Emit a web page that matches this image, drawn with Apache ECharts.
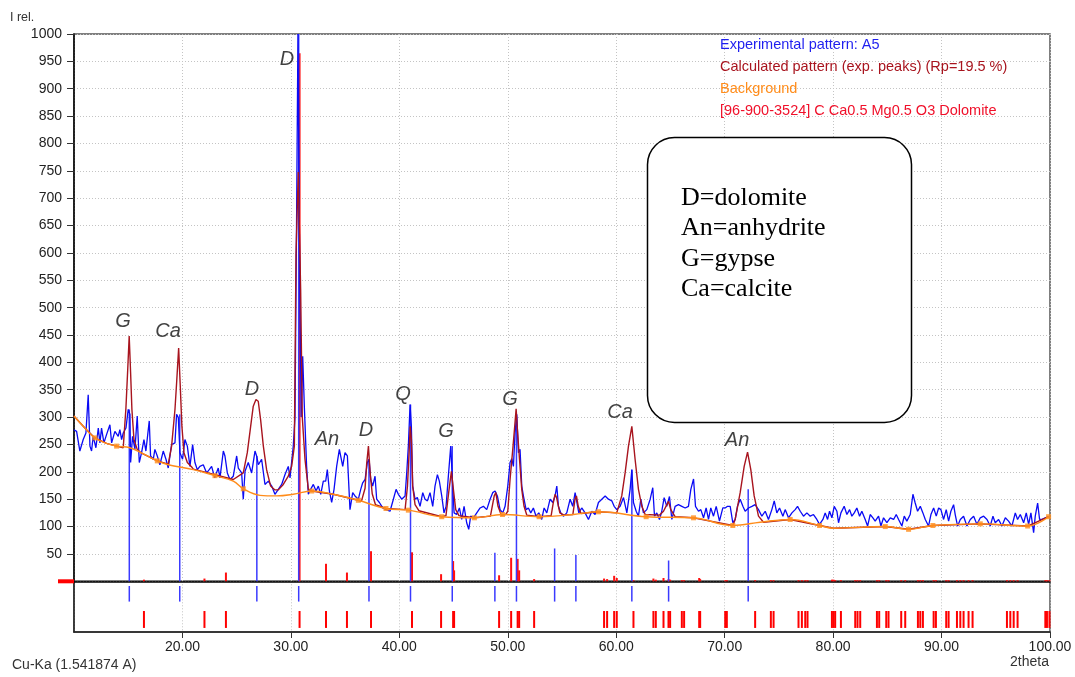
<!DOCTYPE html>
<html><head><meta charset="utf-8">
<script src="https://cdn.jsdelivr.net/npm/echarts@6/dist/echarts.min.js"></script>
<style>html,body{margin:0;padding:0;background:#fff}#c{width:1075px;height:677px}</style>
</head><body><div id="c"></div>
<script>
// ---- data (2theta, relative intensity) ----
const experimental = [[9.99,277],[10.24,274],[10.54,238],[10.85,259],[11.10,271],[11.31,341],[11.47,247],[11.62,238],[11.77,265],[12.02,244],[12.24,280],[12.39,253],[12.54,280],[12.76,253],[13.00,268],[13.31,286],[13.47,253],[13.77,274],[14.08,265],[14.23,277],[14.39,259],[14.54,271],[14.79,280],[15.00,314],[15.16,305],[15.22,217],[15.40,265],[15.62,241],[15.83,302],[16.02,217],[16.23,235],[16.45,259],[16.63,238],[16.94,293],[17.06,229],[17.31,223],[17.46,241],[17.68,229],[17.92,213],[18.23,238],[18.48,223],[18.69,207],[19.00,250],[19.31,253],[19.46,305],[19.62,299],[19.77,235],[20.01,223],[20.23,259],[20.45,247],[20.69,210],[20.94,250],[21.15,217],[21.37,204],[21.61,210],[21.92,213],[22.23,198],[22.47,204],[22.69,210],[22.98,189],[23.30,207],[23.46,189],[23.77,238],[23.92,229],[24.14,198],[24.38,186],[24.69,192],[25.00,229],[25.15,207],[25.46,198],[25.61,150],[25.77,201],[26.07,217],[26.38,198],[26.69,238],[26.84,229],[27.00,213],[27.30,223],[27.61,177],[27.92,183],[28.23,174],[28.53,159],[28.84,168],[29.15,177],[29.46,195],[29.76,210],[29.92,189],[30.22,247],[30.38,300],[30.50,597],[30.65,1000],[30.80,590],[30.95,300],[31.09,411],[31.24,320],[31.45,210],[31.61,159],[31.82,168],[32.07,177],[32.32,165],[32.53,174],[32.75,159],[32.99,183],[33.21,183],[33.36,204],[33.55,165],[33.76,144],[33.98,168],[34.22,210],[34.47,241],[34.78,210],[34.99,235],[35.21,229],[35.45,131],[35.70,162],[35.91,156],[36.22,150],[36.44,168],[36.62,180],[36.84,186],[37.05,217],[37.21,223],[37.36,186],[37.54,174],[37.76,192],[37.91,150],[38.16,144],[38.47,134],[38.77,131],[39.14,128],[39.45,150],[39.70,168],[39.91,159],[40.22,150],[40.53,156],[40.68,198],[40.83,247],[40.99,323],[41.11,283],[41.23,174],[41.45,150],[41.66,153],[41.91,137],[42.16,162],[42.37,150],[42.59,147],[42.83,162],[43.08,137],[43.29,174],[43.51,195],[43.69,183],[43.91,156],[44.12,125],[44.31,137],[44.52,192],[44.74,247],[44.89,186],[45.05,125],[45.29,122],[45.54,134],[45.75,113],[45.97,137],[46.21,107],[46.40,95],[46.58,119],[46.83,116],[47.14,125],[47.45,134],[47.75,137],[48.06,131],[48.37,150],[48.61,162],[48.83,165],[49.04,156],[49.29,131],[49.54,125],[49.75,137],[50.00,174],[50.21,217],[50.37,224],[50.52,210],[50.67,271],[50.83,305],[50.98,235],[51.13,241],[51.29,174],[51.44,156],[51.69,131],[51.90,134],[52.12,125],[52.36,134],[52.61,119],[52.86,125],[53.13,113],[53.35,134],[53.60,125],[53.90,150],[54.15,144],[54.36,156],[54.52,174],[54.67,137],[54.89,125],[55.13,119],[55.44,125],[55.75,150],[55.99,137],[56.21,162],[56.36,165],[56.55,125],[56.82,134],[57.13,125],[57.44,113],[57.75,128],[58.05,122],[58.36,144],[58.67,150],[58.98,156],[59.28,150],[59.59,147],[59.81,137],[60.05,131],[60.36,137],[60.67,153],[60.98,125],[61.28,168],[61.44,204],[61.59,144],[61.84,128],[62.05,119],[62.27,150],[62.51,125],[62.82,131],[63.13,150],[63.37,171],[63.53,119],[63.74,125],[63.99,113],[64.20,128],[64.42,153],[64.66,137],[64.91,155],[65.13,113],[65.43,137],[65.74,140],[66.05,137],[66.36,134],[66.66,137],[66.88,168],[67.13,187],[67.31,137],[67.59,128],[67.80,131],[68.05,116],[68.29,134],[68.51,113],[68.72,134],[68.97,119],[69.22,137],[69.52,110],[69.83,134],[70.05,134],[70.26,137],[70.51,137],[70.75,107],[70.97,113],[71.18,137],[71.43,150],[71.68,137],[71.89,128],[72.20,134],[72.51,137],[72.81,140],[73.12,131],[73.43,119],[73.74,128],[74.04,113],[74.35,131],[74.57,147],[74.81,125],[75.06,134],[75.37,119],[75.58,131],[75.89,116],[76.20,125],[76.50,131],[76.72,137],[76.97,128],[77.27,119],[77.58,125],[77.89,119],[78.19,122],[78.50,113],[78.75,104],[79.06,113],[79.27,125],[79.49,113],[79.67,128],[79.89,116],[80.10,137],[80.35,128],[80.50,107],[80.72,125],[81.02,137],[81.27,122],[81.52,131],[81.73,119],[81.95,125],[82.19,134],[82.44,119],[82.65,128],[82.96,113],[83.18,101],[83.42,122],[83.67,116],[83.88,110],[84.19,119],[84.41,101],[84.65,116],[84.96,107],[85.27,116],[85.58,113],[85.82,122],[86.04,113],[86.34,101],[86.56,119],[86.80,110],[87.11,122],[87.36,159],[87.57,143],[87.79,128],[88.04,137],[88.28,125],[88.50,113],[88.80,101],[89.02,122],[89.27,134],[89.51,119],[89.73,134],[89.94,131],[90.19,113],[90.43,131],[90.65,110],[90.86,128],[91.11,140],[91.26,122],[91.48,101],[91.73,113],[92.03,119],[92.34,101],[92.65,113],[92.96,119],[93.26,104],[93.57,116],[93.88,119],[94.19,113],[94.49,101],[94.74,119],[94.95,107],[95.26,113],[95.57,101],[95.88,116],[96.18,110],[96.49,101],[96.80,125],[97.01,113],[97.26,122],[97.57,107],[97.81,125],[98.03,104],[98.24,125],[98.49,89],[98.64,119],[98.86,143],[99.04,113],[99.26,113],[99.57,116],[99.87,118]];

const calculated = [[9.99,302],[11.0,280],[11.93,262],[13.0,252],[13.93,247],[14.54,244],[14.79,317],[14.94,381],[15.09,448],[15.22,381],[15.34,314],[15.53,259],[15.83,241],[16.23,234],[17.68,220],[18.69,214],[19.0,247],[19.31,314],[19.46,362],[19.65,426],[19.80,356],[19.95,283],[20.14,235],[20.45,217],[20.85,209],[21.0,205],[23.0,195],[24.69,186],[25.61,198],[25.98,235],[26.29,283],[26.53,320],[26.78,332],[26.99,329],[27.21,295],[27.46,247],[27.76,204],[28.13,174],[28.53,167],[28.84,167],[29.30,177],[29.76,192],[30.07,210],[30.32,247],[30.47,597],[30.68,748],[30.90,533],[31.05,300],[31.30,223],[31.61,168],[31.92,165],[33.91,159],[36.22,148],[36.5,146],[36.84,170],[36.99,215],[37.15,247],[37.3,200],[37.5,160],[37.8,140],[38.77,133],[40.53,131],[40.75,174],[40.9,235],[41.0,283],[41.11,259],[41.23,174],[41.45,140],[41.8,129],[43.91,118],[44.3,120],[44.55,162],[44.8,201],[44.95,174],[45.2,131],[45.5,120],[46.92,116],[48.4,119],[48.75,156],[48.9,162],[49.1,137],[49.4,121],[49.8,122],[50.0,128],[50.21,186],[50.46,241],[50.64,283],[50.77,315],[50.89,277],[51.08,223],[51.29,168],[51.5,137],[51.75,121],[52.89,118],[54.0,120],[54.2,144],[54.36,159],[54.5,153],[54.8,125],[55.2,121],[56.0,122],[56.2,150],[56.33,156],[56.5,137],[56.75,124],[58.36,127],[60.05,125],[60.51,156],[60.82,198],[61.13,247],[61.44,283],[61.74,223],[62.05,168],[62.36,137],[62.67,122],[64.0,121],[64.36,128],[64.82,146],[65.03,131],[65.43,118],[67.13,116],[70.75,102],[70.97,113],[71.43,162],[71.80,210],[72.11,236],[72.41,204],[72.72,156],[73.12,119],[73.58,108],[76.04,113],[78.75,102],[80.04,97],[84.81,100],[86.96,95],[89.20,102],[93.57,105],[97.94,101],[99.87,118]];

const background = [[10,302],[11.0,280],[11.93,262],[13.0,252],[13.93,247],[15.16,244],[16.5,232],[17.68,220],[18.69,213],[21.0,204],[23.0,193],[24.69,183],[25.61,169],[27.15,157],[28.69,156],[30.22,159],[31.92,165],[33.91,159],[36.22,148],[38.77,133],[40.83,130],[43.91,118],[46.92,116],[49.51,122],[52.89,118],[56.06,122],[58.36,127],[62.76,118],[67.13,116],[70.75,102],[73.27,108],[76.04,113],[78.75,102],[80.04,97],[84.81,100],[86.96,95],[89.20,102],[93.57,105],[97.94,101],[99.87,118]];

const backgroundNodes = [[11.93,262],[13.93,247],[17.68,220],[23.0,193],[25.61,169],[31.92,165],[36.22,148],[38.77,133],[40.83,130],[43.91,118],[46.92,116],[49.51,122],[52.89,118],[58.36,127],[62.76,118],[67.13,116],[70.75,102],[76.04,113],[78.75,102],[84.81,100],[86.96,95],[89.20,102],[93.57,105],[97.94,101],[99.87,118]];

// experimental peak positions with their heights
const peakMarkers = [[15.1,314],[19.75,305],[26.86,229],[30.72,1000],[37.2,223],[41.03,323],[44.88,247],[48.81,52],[50.8,300],[54.32,60],[56.28,48],[61.44,204],[64.83,38],[72.17,168]];

// reference card 96-900-3524 Dolomite: positions and relative heights
const dolomiteRef = [[16.45,3],[22.03,5],[24.01,16],[30.80,965],[33.24,32],[35.17,16],[37.39,55],[41.17,53],[43.85,13],[44.96,37],[45.05,20],[49.2,11],[50.31,43],[50.91,41],[51.05,20],[52.43,4],[58.88,5],[59.16,4],[59.81,10],[60.05,6],[61.59,2],[63.43,5],[63.65,3],[64.36,6],[64.82,4],[64.97,3],[66.05,2],[66.26,2],[67.65,6],[67.74,4],[70.05,2],[70.20,2],[72.81,2],[74.26,2],[74.51,2],[76.81,2],[77.12,2],[77.43,2],[77.64,2],[79.89,3],[80.04,3],[80.19,2],[80.72,2],[82.04,2],[82.25,2],[82.50,2],[84.04,2],[84.25,2],[84.90,2],[85.11,2],[86.28,2],[86.65,2],[87.82,2],[88.04,2],[88.28,2],[89.27,2],[89.48,2],[90.43,2],[90.65,2],[91.42,2],[91.73,2],[92.03,2],[92.49,2],[92.86,2],[96.03,2],[96.34,2],[96.65,2],[97.01,2],[99.57,2],[99.72,2],[99.95,2]];

// phase labels: [2theta, intensity, text]
const phaseLabels = [[29.64,953,'D'],[14.52,474,'G'],[18.67,456,'Ca'],[26.41,351,'D'],[33.33,260,'An'],[36.93,276,'D'],[40.34,342,'Q'],[44.30,273,'G'],[50.21,333,'G'],[60.35,309,'Ca'],[71.14,258,'An']];

const yTicks = {min:0, max:1000, step:50};
const xTicks = {min:10, max:100, step:10};

const legendLines = [
  ['Experimental pattern: A5', '#1f1fef'],
  ['Calculated pattern (exp. peaks) (Rp=19.5 %)', '#a8141e'],
  ['Background', '#ff8c1a'],
  ['[96-900-3524] C Ca0.5 Mg0.5 O3 Dolomite', '#f0102a']
];
const boxLines = ['D=dolomite', 'An=anhydrite', 'G=gypse', 'Ca=calcite'];

// ---- chart ----
const FONT = 'Liberation Sans, Arial, sans-serif';
const grid = '#c4c4c4';
const chart = echarts.init(document.getElementById('c'));

function stickRender(color, width) {
  return function (params, api) {
    const p0 = api.coord([api.value(0), 0]);
    const p1 = api.coord([api.value(0), api.value(1)]);
    return {type: 'line', shape: {x1: p0[0], y1: p0[1], x2: p1[0], y2: p1[1]},
      style: {stroke: color, lineWidth: width}};
  };
}
function rowRender(color, width, f0, f1) {
  return function (params, api) {
    const cs = params.coordSys;
    const x = api.coord([api.value(0), 0])[0];
    return {type: 'line', shape: {x1: x, y1: cs.y + cs.height * f0, x2: x, y2: cs.y + cs.height * f1},
      style: {stroke: color, lineWidth: width}};
  };
}

const dotted = {show: true, lineStyle: {color: grid, type: [1, 2], width: 1}};
const graphics = [];
legendLines.forEach((l, i) => graphics.push({type: 'text', left: 720, top: 37 + i * 22,
  style: {text: l[0], fill: l[1], font: '14.5px ' + FONT}, z: 100}));
graphics.push({type: 'rect', shape: {x: 647.5, y: 137.5, width: 264, height: 285, r: 27},
  style: {fill: '#fff', stroke: '#000', lineWidth: 1.5}, z: 100});
boxLines.forEach((t, i) => graphics.push({type: 'text', x: 681, y: 185 + i * 30.5,
  style: {text: t, fill: '#000', font: '26px "Liberation Serif", "Times New Roman", serif', textVerticalAlign: 'alphabetic'}, z: 101}));
graphics.push({type: 'text', left: 10, top: 11, style: {text: 'I rel.', fill: '#333', font: '12.5px ' + FONT}});
graphics.push({type: 'text', left: 12, top: 658, style: {text: 'Cu-Ka (1.541874 A)', fill: '#333', font: '14px ' + FONT}});
graphics.push({type: 'text', left: 1010, top: 655, style: {text: '2theta', fill: '#333', font: '14px ' + FONT}});
graphics.push({type: 'rect', shape: {x: 58, y: 579.3, width: 16, height: 4}, style: {fill: '#ff0000'}, z: 50});

chart.setOption({
  animation: false,
  backgroundColor: '#fff',
  grid: [
    {left: 74, right: 25, top: 34, height: 547.3, show: true, borderColor: '#555', borderWidth: 1.5},
    {left: 74, right: 25, top: 581.3, height: 50.7, show: true, borderColor: '#555', borderWidth: 1.5}
  ],
  xAxis: [
    {gridIndex: 0, type: 'value', min: xTicks.min, max: xTicks.max, interval: xTicks.step,
      axisLine: {show: true, onZero: false, lineStyle: {color: '#000', width: 1.5}},
      axisTick: {show: false}, axisLabel: {show: false}, splitLine: dotted},
    {gridIndex: 1, type: 'value', min: xTicks.min, max: xTicks.max, interval: xTicks.step,
      axisLine: {show: true, onZero: false, lineStyle: {color: '#222', width: 1.5}},
      axisTick: {show: true, length: 6, lineStyle: {color: '#333'}},
      axisLabel: {showMinLabel: false, margin: 8, formatter: v => v.toFixed(2), fontSize: 14, fontFamily: FONT, color: '#222'},
      splitLine: dotted}
  ],
  yAxis: [
    {gridIndex: 0, type: 'value', min: yTicks.min, max: yTicks.max, interval: yTicks.step,
      axisLine: {show: true, onZero: false, lineStyle: {color: '#000', width: 1.5}},
      axisTick: {show: true, length: 7, lineStyle: {color: '#333'}},
      axisLabel: {showMinLabel: false, margin: 12, formatter: v => String(v), fontSize: 14, fontFamily: FONT, color: '#222'},
      splitLine: dotted},
    {gridIndex: 1, type: 'value', min: 0, max: 1,
      axisLine: {show: true, onZero: false, lineStyle: {color: '#222', width: 1.5}},
      axisTick: {show: false}, axisLabel: {show: false}, splitLine: {show: false}}
  ],
  graphic: graphics,
  series: [
    {name: legendLines[3][0], type: 'custom', xAxisIndex: 0, yAxisIndex: 0, renderItem: stickRender('#ff1010', 2),
      data: dolomiteRef, encode: {x: 0, y: 1}, z: 1},
    {name: 'peaks', type: 'custom', xAxisIndex: 0, yAxisIndex: 0, renderItem: stickRender('#3a3aff', 1.5),
      data: peakMarkers, encode: {x: 0, y: 1}, z: 2, silent: true},
    {name: legendLines[0][0], type: 'line', xAxisIndex: 0, yAxisIndex: 0, data: experimental,
      showSymbol: false, lineStyle: {color: '#0a0af5', width: 1.3}, z: 3},
    {name: legendLines[1][0], type: 'line', xAxisIndex: 0, yAxisIndex: 0, data: calculated,
      showSymbol: false, lineStyle: {color: '#a8141e', width: 1.4}, z: 4},
    {name: legendLines[2][0], type: 'line', xAxisIndex: 0, yAxisIndex: 0, data: background,
      smooth: 0.4, showSymbol: false, lineStyle: {color: '#ff8c1a', width: 1.4}, z: 5},
    {name: 'bg nodes', type: 'scatter', xAxisIndex: 0, yAxisIndex: 0, data: backgroundNodes,
      symbol: 'rect', symbolSize: 5, itemStyle: {color: '#ff8c1a'}, z: 6},
    {name: 'peak row', type: 'custom', xAxisIndex: 1, yAxisIndex: 1, renderItem: rowRender('#3a3aff', 1.5, 0.093, 0.40),
      data: peakMarkers.map(p => [p[0], 0]), encode: {x: 0, y: 1}},
    {name: 'ref row', type: 'custom', xAxisIndex: 1, yAxisIndex: 1, renderItem: rowRender('#ff0000', 2, 0.586, 0.92),
      data: dolomiteRef.map(p => [p[0], 0]), encode: {x: 0, y: 1}},
    {name: 'labels', type: 'scatter', xAxisIndex: 0, yAxisIndex: 0, data: phaseLabels,
      symbolSize: 1, itemStyle: {color: 'rgba(0,0,0,0)'}, z: 20,
      label: {show: true, position: 'inside', formatter: p => p.data[2], fontStyle: 'italic',
        fontSize: 20, fontFamily: FONT, color: '#111'}}
  ]
});
</script></body></html>
